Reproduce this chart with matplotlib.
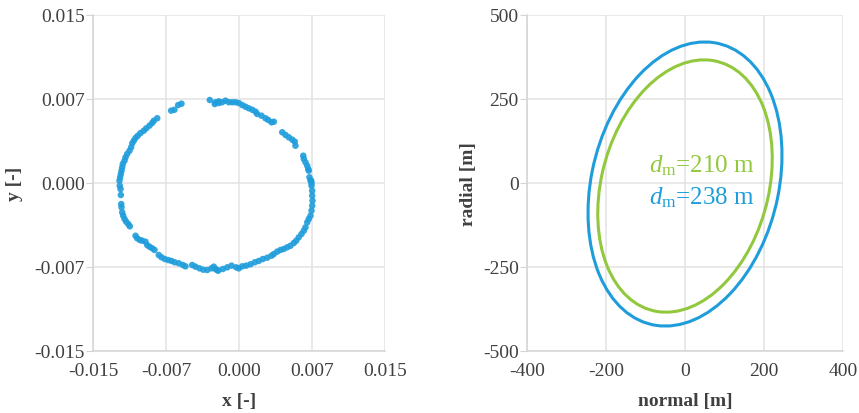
import numpy as np
import matplotlib.pyplot as plt
from matplotlib.patches import Ellipse

plt.rcParams['font.family'] = ['Liberation Serif', 'DejaVu Serif']
plt.rcParams['mathtext.fontset'] = 'custom'
plt.rcParams['mathtext.rm'] = 'Liberation Serif'
plt.rcParams['mathtext.it'] = 'Liberation Serif:italic'
plt.rcParams['axes.unicode_minus'] = False

# left panel: scattered points, values in units of 1e-3
x_milli = [-3.00, -2.49, -2.08, -6.97, -6.63, -6.25, -5.91,
           -8.40, -8.75, -8.92, -9.20, -9.53, -9.78, -10.12, -10.40, -10.63, -10.81,
           -10.97, -11.08, -11.25, -11.49, -11.66, -11.76, -11.94, -12.00, -12.07, -12.14,
           -12.21, -12.28, -12.25, -12.17, -12.14, -12.10, -12.07, -12.00, -11.90, -11.76,
           -11.59, -11.38, -11.22, -10.63, -10.46, -10.19, -9.95, -9.61, -9.43, -9.20,
           -8.92, -8.68, -8.24, -7.96, -7.62, -7.27, -6.93, -6.60, -6.18, -5.77, -5.50,
           -4.81, -4.47, -4.06, -3.68, -3.27, -2.83, -2.59, -2.24,
           -2.41, -2.14, -1.66, -1.21, -0.77, -0.29, -0.02, 0.33, 0.74, 1.18, 1.62, 2.03,
           2.45, 2.90, 3.34, 3.58, 3.92, 4.26, 4.60, 4.95, 5.29, 5.63, 5.88, 6.14, 6.42,
           6.66, 6.83, 7.01, 7.17, 7.35, 7.45, 7.52, 7.55, 7.52, 7.52, 7.45, 7.42,
           -2.41, -2.08, -1.73, -1.39, -1.05, -0.70, -0.36, -0.02, 0.33, 0.67, 1.01, 1.36,
           1.70, 1.87, 2.31, 2.72, 3.00, 3.34, 3.58, 4.44, 4.78, 5.12, 5.47, 5.73, 5.80,
           6.60, 6.66, 6.83, 7.01, 7.11, 7.17, 7.24, 7.35, 7.45]
y_milli = [7.41, 7.05, 7.29, 6.46, 6.54, 6.96, 7.08,
           5.78, 5.56, 5.36, 5.12, 4.88, 4.67, 4.46, 4.22, 4.02, 3.78,
           3.54, 3.19, 2.88, 2.59, 2.29, 1.99, 1.70, 1.40, 1.10, 0.80,
           0.51, 0.21, -0.24, -0.54, -1.07, -1.88, -2.17, -2.62, -2.92, -3.21,
           -3.46, -3.66, -3.87, -4.71, -4.94, -5.09, -5.15, -5.24, -5.54, -5.69,
           -5.83, -5.98, -6.43, -6.63, -6.79, -6.88, -6.96, -7.08, -7.17, -7.32, -7.44,
           -7.32, -7.47, -7.62, -7.74, -7.77, -7.62, -7.47, -7.77,
           -7.68, -7.83, -7.68, -7.53, -7.38, -7.53, -7.62, -7.44, -7.38, -7.26, -7.08, -6.96,
           -6.79, -6.67, -6.49, -6.34, -6.13, -5.98, -5.89, -5.74, -5.60, -5.36, -5.15, -4.85, -4.55,
           -4.26, -3.96, -3.51, -3.21, -2.92, -2.47, -2.03, -1.58, -1.13, -0.69, -0.24, 0.21,
           7.21, 7.14, 7.21, 7.35, 7.21, 7.21, 7.21, 7.14, 6.96, 6.81, 6.67, 6.54,
           6.37, 6.16, 6.01, 5.78, 5.63, 5.42, 5.47, 4.53, 4.29, 4.08, 3.87, 3.69, 3.33,
           2.44, 2.14, 1.85, 1.54, 1.25, 1.10, 0.51, 0.21, 0.00]

xy_ticks = [-0.015, -0.0075, 0.0, 0.0075, 0.015]
xy_ticklabels = ['-0.015', '-0.007', '0.000', '0.007', '0.015']

# right panel: ellipses (semi-minor = d_m, semi-major, tilt angle in data space, centre)
ell_labels = ['210 m', '238 m']
ell_minor = [213, 238]
ell_major = [380, 427]
ell_angle = [79.3, 80.2]
ell_cy = [-9, -3]
ell_colors = ['#92c83e', '#1f9ddb']

rn_xticks = [-400, -200, 0, 200, 400]
rn_yticks = [-500, -250, 0, 250, 500]

blue = '#1f9ddb'
tick_col = '#404040'
grid_col = '#e3e3e3'


def nice_axes(axis):
    axis.grid(True, color=grid_col, linewidth=1.1)
    axis.set_axisbelow(True)
    for side in ['top', 'right']:
        axis.spines[side].set_visible(False)
    for side in ['left', 'bottom']:
        axis.spines[side].set_color('#d4d4d4')
        axis.spines[side].set_linewidth(1.1)
    axis.tick_params(labelsize=14, color='#d4d4d4', labelcolor=tick_col)
    axis.tick_params(axis='x', length=0, pad=8)
    axis.tick_params(axis='y', length=5, pad=1)


fig = plt.figure(figsize=(8.59, 4.14), dpi=100)
ax1 = fig.add_axes([93 / 859, 62 / 414, 292 / 859, 336 / 414])
ax2 = fig.add_axes([527 / 859, 62 / 414, 316 / 859, 336 / 414])

ax1.scatter(np.array(x_milli) / 1000, np.array(y_milli) / 1000, s=22, color=blue,
            edgecolors='none', alpha=0.9, zorder=3)
ax1.set_xlim(-0.015, 0.015)
ax1.set_ylim(-0.015, 0.015)
ax1.set_xticks(xy_ticks)
ax1.set_xticklabels(xy_ticklabels)
ax1.set_yticks(xy_ticks)
ax1.set_yticklabels(xy_ticklabels)
ax1.set_xlabel('x [-]', fontsize=14, fontweight='bold', color=tick_col, labelpad=9)
ax1.set_ylabel('y [-]', fontsize=14, fontweight='bold', color=tick_col, labelpad=8)
nice_axes(ax1)

for mi, ma, an, cy, c in zip(ell_minor, ell_major, ell_angle, ell_cy, ell_colors):
    ax2.add_patch(Ellipse((0, cy), width=2 * ma, height=2 * mi, angle=an,
                          fill=False, edgecolor=c, linewidth=2.2, zorder=3))
ax2.text(-92, 55, r'$d_{\rm m}$=' + ell_labels[0], color=ell_colors[0], fontsize=18,
         ha='left', va='center')
ax2.text(-92, -42, r'$d_{\rm m}$=' + ell_labels[1], color=ell_colors[1], fontsize=18,
         ha='left', va='center')
ax2.set_xlim(-400, 400)
ax2.set_ylim(-500, 500)
ax2.set_xticks(rn_xticks)
ax2.set_yticks(rn_yticks)
ax2.set_xlabel('normal [m]', fontsize=14, fontweight='bold', color=tick_col, labelpad=9)
ax2.set_ylabel('radial [m]', fontsize=14, fontweight='bold', color=tick_col, labelpad=4)
nice_axes(ax2)

fig.savefig('out.png', dpi=100)
